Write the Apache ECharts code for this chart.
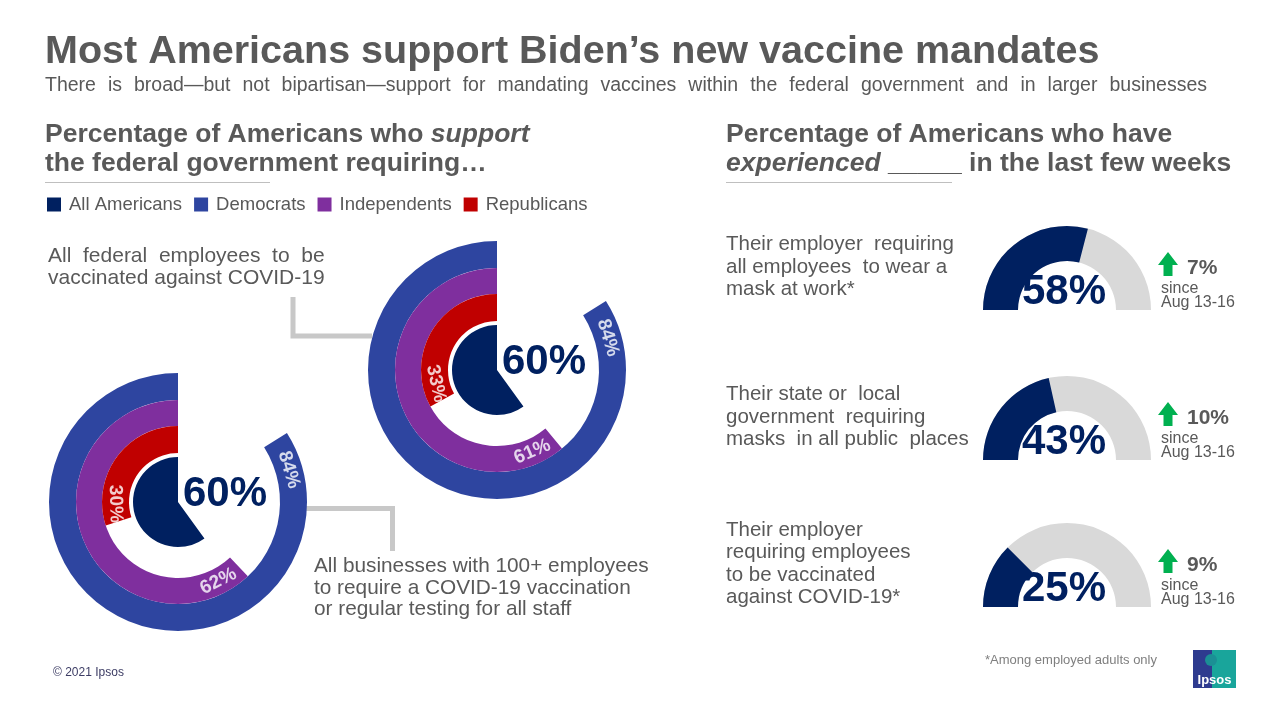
<!DOCTYPE html>
<html>
<head>
<meta charset="utf-8">
<script src="https://cdn.jsdelivr.net/npm/echarts@6/dist/echarts.min.js"></script>
<style>
  html, body { margin: 0; padding: 0; background: #fff; }
  #chart { width: 1280px; height: 720px; }
</style>
</head>
<body>
<div id="chart"></div>
<script>
// groups, in legend order
const groups = ["All Americans", "Democrats", "Independents", "Republicans"];
const groupColors = ["#002060", "#2E45A0", "#7F2F9E", "#C00000"];

// % who support the federal government requiring... (same order as groups)
const federalEmployees = [60, 84, 61, 33];
const largeBusinesses = [60, 84, 62, 30];

// % who have experienced ... in the last few weeks
const experiences = [
  "Their employer  requiring\nall employees  to wear a\nmask at work*",
  "Their state or  local\ngovernment  requiring\nmasks  in all public  places",
  "Their employer\nrequiring employees\nto be vaccinated\nagainst COVID-19*",
];
const experiencedPct = [58, 43, 25];
const changeSinceAug = [7, 10, 9];

const FONT = "'Liberation Sans', Arial, sans-serif";
const GREY = "#595959";
const NAVY = "#002060";

// ring radii (px): all americans is a pie, the others are rings
const ringRadius = [[0, 45], [102, 129], [76, 102], [49, 76]];
const donuts = [
  { center: [497, 370], values: federalEmployees },
  { center: [178, 502], values: largeBusinesses },
];
// gauge centres for the right side
const gaugeCenters = [[1067, 310], [1067, 460], [1067, 607]];

const series = [];
const polar = [];
const radiusAxis = [];
const angleAxis = [];
const graphic = [];

donuts.forEach((d, di) => {
  // rings drawn as half-transparent pies, counter-clockwise from 12 o'clock
  d.values.forEach((v, gi) => {
    series.push({
      type: "pie",
      silent: true,
      center: d.center,
      radius: ringRadius[gi],
      startAngle: 90,
      clockwise: false,
      label: { show: false },
      labelLine: { show: false },
      emphasis: { disabled: true },
      itemStyle: { borderWidth: 0 },
      data: [
        { name: groups[gi], value: v, itemStyle: { color: groupColors[gi] } },
        { name: "rest", value: 100 - v, itemStyle: { color: "rgba(0,0,0,0)" } },
      ],
    });
  });

  // polar system used to place the end-of-ring labels
  polar.push({ center: d.center, radius: 129 });
  radiusAxis.push({ polarIndex: di, type: "value", min: 0, max: 129, show: false });
  angleAxis.push({
    polarIndex: di, type: "value", min: 0, max: 100,
    startAngle: 90, clockwise: false, show: false,
  });
  const labels = [];
  for (let gi = 1; gi < d.values.length; gi++) {
    const v = d.values[gi];
    const pos = v - 4.5;
    let rot = pos * 3.6;
    while (rot > 90) rot -= 180;
    while (rot < -90) rot += 180;
    const r = (ringRadius[gi][0] + ringRadius[gi][1]) / 2;
    labels.push({ name: v + "%", value: [r, pos], label: { rotate: rot } });
  }
  series.push({
    type: "scatter",
    coordinateSystem: "polar",
    polarIndex: di,
    silent: true,
    symbolSize: 1,
    itemStyle: { color: "rgba(0,0,0,0)" },
    label: {
      show: true,
      position: "inside",
      formatter: "{b}",
      color: "#fff",
      fontSize: 19,
      fontWeight: "bold",
      fontFamily: FONT,
    },
    data: labels,
  });

  // big number next to the pie
  graphic.push({
    type: "text",
    x: d.center[0] + 5,
    y: d.center[1] - 8,
    style: {
      text: d.values[0] + "%",
      fill: NAVY,
      fontSize: 42,
      fontWeight: "bold",
      fontFamily: FONT,
      verticalAlign: "middle",
    },
  });
});

// semicircle gauges
experiencedPct.forEach((v, i) => {
  const c = gaugeCenters[i];
  series.push({
    type: "gauge",
    silent: true,
    center: c,
    radius: 84,
    startAngle: 180,
    endAngle: 0,
    min: 0,
    max: 100,
    axisLine: { lineStyle: { width: 35, color: [[1, "#D9D9D9"]] } },
    progress: { show: true, width: 35, itemStyle: { color: NAVY } },
    pointer: { show: false },
    anchor: { show: false },
    axisTick: { show: false },
    splitLine: { show: false },
    axisLabel: { show: false },
    title: { show: false },
    detail: {
      offsetCenter: [-3, -18],
      formatter: "{value}%",
      color: NAVY,
      fontSize: 42,
      fontWeight: "bold",
      fontFamily: FONT,
    },
    data: [{ value: v }],
  });

  graphic.push(
    {
      type: "text",
      x: 726,
      y: c[1] - 43,
      style: {
        text: experiences[i], fill: GREY, fontSize: 20.5, lineHeight: 22.5,
        fontFamily: FONT, verticalAlign: "middle",
      },
    },
    {
      type: "polygon",
      shape: {
        points: [
          [1168, c[1] - 58], [1178, c[1] - 45], [1172.5, c[1] - 45], [1172.5, c[1] - 34],
          [1163.5, c[1] - 34], [1163.5, c[1] - 45], [1158, c[1] - 45],
        ],
      },
      style: { fill: "#00B050" },
    },
    {
      type: "text",
      x: 1187,
      y: c[1] - 42,
      style: {
        text: changeSinceAug[i] + "%", fill: GREY, fontSize: 21, fontWeight: "bold",
        fontFamily: FONT, verticalAlign: "middle",
      },
    },
    {
      type: "text",
      x: 1161,
      y: c[1] - 14,
      style: {
        text: "since\nAug 13-16", fill: GREY, fontSize: 16, lineHeight: 14,
        fontFamily: FONT, verticalAlign: "middle",
      },
    }
  );
});

// justified subtitle: words spread across the full line width
const subtitle = "There is broad\u2014but not bipartisan\u2014support for mandating vaccines within the federal government and in larger businesses";
const subWords = subtitle.split(" ");
const measure = document.createElement("canvas").getContext("2d");
measure.font = "19.5px 'Liberation Sans'";
const wordWidths = subWords.map((w) => measure.measureText(w).width);
const totalWords = wordWidths.reduce((a, b) => a + b, 0);
const wordGap = (1162 - totalWords) / (subWords.length - 1);
let wx = 45;
subWords.forEach((w, i) => {
  graphic.push({
    type: "text", x: wx, y: 86,
    style: { text: w, fill: GREY, fontSize: 19.5, fontFamily: FONT, verticalAlign: "middle" },
  });
  wx += wordWidths[i] + wordGap;
});

graphic.push(
  {
    type: "text", x: 45, y: 52,
    style: {
      text: "Most Americans support Biden\u2019s new vaccine mandates",
      fill: GREY, fontSize: 39.5, fontWeight: "bold", fontFamily: FONT, verticalAlign: "middle",
    },
  },
  {
    type: "text", x: 45, y: 149,
    style: {
      text: "{b|Percentage of Americans who }{i|support}\n{b|the federal government requiring\u2026}",
      verticalAlign: "middle",
      rich: {
        b: { fill: GREY, fontSize: 26.5, fontWeight: "bold", fontFamily: FONT, lineHeight: 29 },
        i: { fill: GREY, fontSize: 26.5, fontWeight: "bold", fontStyle: "italic", fontFamily: FONT, lineHeight: 29 },
      },
    },
  },
  {
    type: "text", x: 726, y: 149,
    style: {
      text: "{b|Percentage of Americans who have}\n{i|experienced}{b| _____ in the last few weeks}",
      verticalAlign: "middle",
      rich: {
        b: { fill: GREY, fontSize: 26.5, fontWeight: "bold", fontFamily: FONT, lineHeight: 29 },
        i: { fill: GREY, fontSize: 26.5, fontWeight: "bold", fontStyle: "italic", fontFamily: FONT, lineHeight: 29 },
      },
    },
  },
  { type: "line", shape: { x1: 45, y1: 182.5, x2: 270, y2: 182.5 }, style: { stroke: "#BFBFBF", lineWidth: 1 } },
  { type: "line", shape: { x1: 726, y1: 182.5, x2: 952, y2: 182.5 }, style: { stroke: "#BFBFBF", lineWidth: 1 } },
  {
    type: "text", x: 48, y: 267,
    style: {
      text: "All  federal  employees  to  be\nvaccinated against COVID-19",
      fill: GREY, fontSize: 21, lineHeight: 22, fontFamily: FONT, verticalAlign: "middle",
    },
  },
  {
    type: "text", x: 314, y: 588,
    style: {
      text: "All businesses with 100+ employees\nto require a COVID-19 vaccination\nor regular testing for all staff",
      fill: GREY, fontSize: 20.8, lineHeight: 21.5, fontFamily: FONT, verticalAlign: "middle",
    },
  },
  {
    type: "polyline",
    shape: { points: [[293, 297], [293, 336], [372, 336]] },
    style: { stroke: "#C8C8C8", lineWidth: 5, fill: null },
  },
  {
    type: "polyline",
    shape: { points: [[306, 508.5], [392.5, 508.5], [392.5, 551]] },
    style: { stroke: "#C8C8C8", lineWidth: 5, fill: null },
  },
  {
    type: "text", x: 985, y: 660,
    style: { text: "*Among employed adults only", fill: "#7F7F7F", fontSize: 13, fontFamily: FONT, verticalAlign: "middle" },
  },
  {
    type: "text", x: 53, y: 673,
    style: { text: "\u00A9 2021 Ipsos", fill: "#3C3C64", fontSize: 12, fontFamily: FONT, verticalAlign: "middle" },
  },
  // Ipsos logo
  { type: "rect", shape: { x: 1193, y: 650, width: 43, height: 38 }, style: { fill: "#19A59B" } },
  { type: "rect", shape: { x: 1193, y: 650, width: 19, height: 38 }, style: { fill: "#2E3B8F" } },
  { type: "circle", shape: { cx: 1211, cy: 660, r: 6 }, style: { fill: "#1B8F95" } },
  {
    type: "text", x: 1214.5, y: 680,
    style: { text: "Ipsos", fill: "#fff", fontSize: 13, fontWeight: "bold", fontFamily: FONT, align: "center", verticalAlign: "middle" },
  }
);

const chart = echarts.init(document.getElementById("chart"), null, { renderer: "canvas" });
chart.setOption({
  backgroundColor: "#fff",
  animation: false,
  legend: {
    data: groups,
    left: 47,
    top: 195,
    padding: 0,
    icon: "rect",
    itemWidth: 14,
    itemHeight: 14,
    itemGap: 12,
    selectedMode: false,
    textStyle: { color: GREY, fontSize: 18.5, fontFamily: FONT, padding: [0, 0, 0, 3] },
  },
  polar: polar,
  radiusAxis: radiusAxis,
  angleAxis: angleAxis,
  series: series,
  graphic: graphic,
});
</script>
</body>
</html>
